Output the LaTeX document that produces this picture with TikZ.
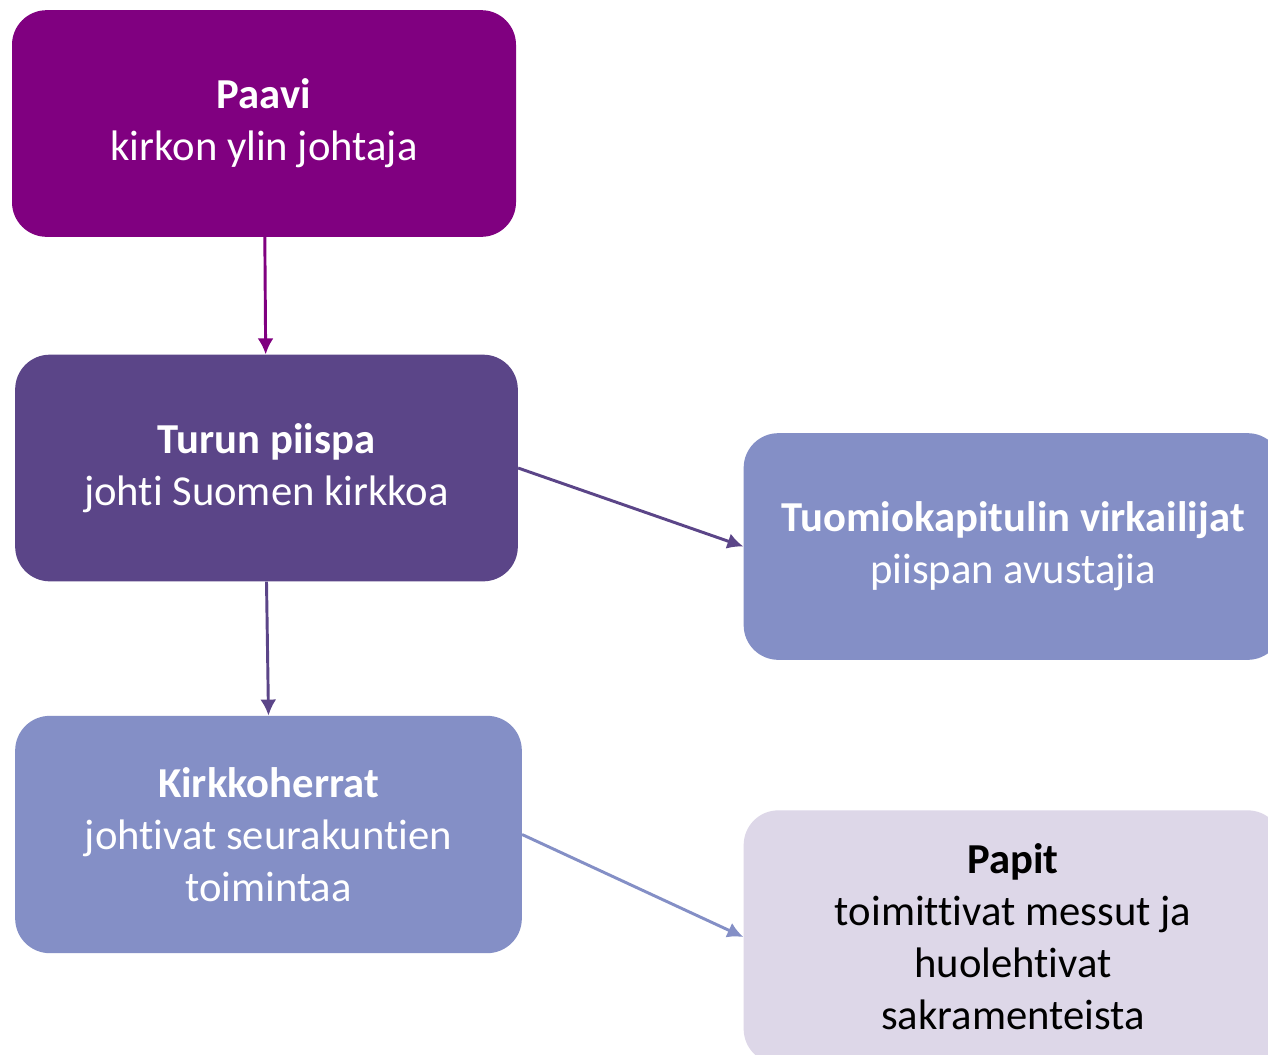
\documentclass[tikz,border=0pt]{standalone}
\usepackage{fontspec}
\setmainfont{Carlito}[Ligatures=NoCommon]
\usetikzlibrary{positioning,arrows.meta}
\definecolor{paavicol}{HTML}{800080}
\definecolor{piispacol}{HTML}{5B4588}
\definecolor{herracol}{HTML}{848FC6}
\definecolor{papitcol}{HTML}{DDD7E8}
\tikzset{
  box/.style={rounded corners=26pt, align=center, text=white, font=\fontsize{32}{39}\selectfont},
  link/.style={-{Latex[length=12pt,width=12pt]}, line width=2.2pt}
}
\begin{document}
\begin{tikzpicture}[x=0.75pt, y=-0.75pt]
    \clip (0,0) rectangle (1268,1054);
    \fill[white] (0,0) rectangle (1268,1054);
    % boxes
    \node[box, fill=paavicol, minimum width=378pt, minimum height=170pt] (paavi) at (264,123.5) {\textbf{Paavi}\\kirkon ylin johtaja};
    \node[box, fill=piispacol, minimum width=377pt, minimum height=170pt] (piispa) at (266.5,468) {\textbf{Turun piispa}\\johti Suomen kirkkoa};
    \node[box, fill=herracol, minimum width=404pt, minimum height=170pt] (kapituli) at (1013,546.5) {\textbf{Tuomiokapitulin virkailijat}\\piispan avustajia};
    \node[box, fill=herracol, minimum width=380pt, minimum height=178pt] (herrat) at (268.5,834.5) {\textbf{Kirkkoherrat}\\johtivat seurakuntien\\toimintaa};
    \node[box, fill=papitcol, text=black, minimum width=404pt, minimum height=190pt] (papit) at (1013,937) {\textbf{Papit}\\toimittivat messut ja\\huolehtivat\\sakramenteista};
    % arrows
    \draw[link, paavicol] (paavi) -- (piispa);
    \draw[link, piispacol] (piispa.south) -- (herrat.north);
    \draw[link, piispacol] (piispa.east) -- (kapituli.west);
    \draw[link, herracol] (herrat.east) -- (papit.west);
\end{tikzpicture}
\end{document}
